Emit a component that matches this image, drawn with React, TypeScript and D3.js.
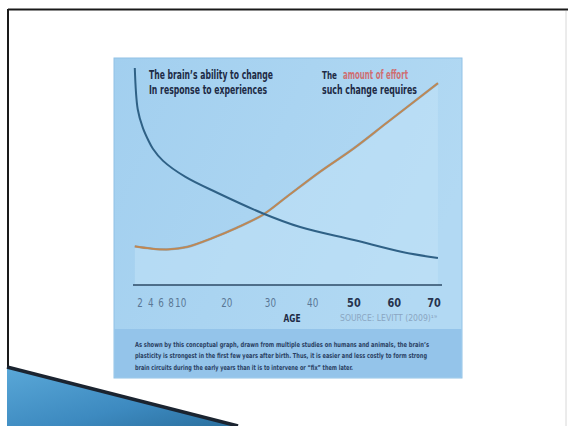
import React from "react";
import * as d3 from "d3";

// ---- data ----
const tickAges = [2, 4, 6, 8, 10, 20, 30, 40, 50, 60, 70];
const boldTicks = [50, 60, 70];

const plasticityAges = [1.1, 1.6, 2.5, 3.5, 4.4, 6.4, 11, 18, 28, 37, 50, 62, 71];
const plasticityValues = [100, 81, 72.5, 66.8, 62.8, 57.2, 49.8, 42.4, 33.2, 26.7, 20.7, 15.2, 12.4];

const effortAges = [1.1, 4, 7.5, 11.3, 16.9, 22.2, 28.2, 33.8, 41.7, 50, 58.1, 71];
const effortValues = [17.8, 16.8, 16.4, 17.5, 21.7, 26.3, 32.3, 40.6, 52.1, 63, 74.7, 93];

const titleLeft = ["The brain\u2019s ability to change", "In response to experiences"];
const titleRightA = "The";
const titleRightB = "amount of effort";
const titleRight2 = "such change requires";
const axisTitle = "AGE";
const sourceText = "SOURCE: LEVITT (2009)\u00B9\u2079";
const captionLines = [
  "As shown by this conceptual graph, drawn from multiple studies on humans and animals, the brain\u2019s",
  "plasticity is strongest in the first few years after birth. Thus, it is easier and less costly to form strong",
  "brain circuits during the early years than it is to intervene or \u201Cfix\u201D them later.",
];

const W = 568;
const H = 426;

export default function App() {
  const x = d3.scalePow().exponent(0.9).domain([0, 70]).range([127.5, 434]);
  const y = d3.scaleLinear().domain([0, 100]).range([285, 68]);

  const plast = plasticityAges.map((a, i) => [a, plasticityValues[i]] as [number, number]);
  const effort = effortAges.map((a, i) => [a, effortValues[i]] as [number, number]);

  const line = d3
    .line<[number, number]>()
    .x((d) => x(d[0]))
    .y((d) => y(d[1]))
    .curve(d3.curveCatmullRom.alpha(0.5));
  const area = d3
    .area<[number, number]>()
    .x((d) => x(d[0]))
    .y0(y(0))
    .y1((d) => y(d[1]))
    .curve(d3.curveCatmullRom.alpha(0.5));

  const cond = "'Liberation Sans Narrow', 'DejaVu Sans Condensed', 'Arial Narrow', sans-serif";

  return (
    <svg
      width={W}
      height={H}
      viewBox={`0 0 ${W} ${H}`}
      style={{ position: "absolute", left: 0, top: 0, background: "#ffffff" }}
    >
      <defs>
        <linearGradient id="wedge" x1="0" y1="0" x2="1" y2="1">
          <stop offset="0%" stopColor="#5aa8d8" />
          <stop offset="60%" stopColor="#3d8ac0" />
          <stop offset="100%" stopColor="#2a6f9e" />
        </linearGradient>
        <linearGradient id="panelGrad" x1="0" y1="0" x2="1" y2="0.4">
          <stop offset="0%" stopColor="#a2cfef" />
          <stop offset="100%" stopColor="#b2d9f3" />
        </linearGradient>
      </defs>

      {/* slide frame */}
      <rect x={0} y={0} width={W} height={H} fill="#ffffff" />
      <line x1={8} y1={9.5} x2={W} y2={9.5} stroke="#1a1a1a" strokeWidth={2} />
      <line x1={8} y1={9} x2={8} y2={H} stroke="#1a1a1a" strokeWidth={2} />
      <line x1={566} y1={11} x2={566} y2={H} stroke="#d8d8d8" strokeWidth={1} />

      {/* bottom-left decorative wedge */}
      <polygon points={`7,367 238,${H} 7,${H}`} fill="url(#wedge)" />
      <line x1={7} y1={367} x2={238} y2={H} stroke="#1b2430" strokeWidth={3.5} />

      {/* chart panel */}
      <rect x={114} y={58} width={348} height={320} fill="url(#panelGrad)" stroke="#92c2e6" strokeWidth={1} />
      <path d={area(effort) ?? ""} fill="#c4e3f7" opacity={0.5} />
      <rect x={114.5} y={329} width={347} height={48.5} fill="#94c4ea" />

      {/* baseline */}
      <line x1={133} y1={y(0)} x2={442} y2={y(0)} stroke="#2c4a66" strokeWidth={1.6} />

      {/* curves */}
      <path d={line(effort) ?? ""} fill="none" stroke="#6a5a4a" strokeWidth={2.4} opacity={0.45} />
      <path d={line(effort) ?? ""} fill="none" stroke="#c28750" strokeWidth={1.6} />
      <path d={line(plast) ?? ""} fill="none" stroke="#2f6186" strokeWidth={2} />

      {/* titles */}
      {titleLeft.map((t, i) => (
        <text
          key={t}
          x={149}
          y={79 + i * 14.5}
          fontFamily={cond}
          fontWeight="bold"
          fontSize={12}
          fill="#1d2a45"
          textLength={i === 0 ? 124 : 118}
          lengthAdjust="spacingAndGlyphs"
        >
          {t}
        </text>
      ))}
      <text
        x={322}
        y={79}
        fontFamily={cond}
        fontWeight="bold"
        fontSize={11}
        fill="#1d2a45"
        textLength={15}
        lengthAdjust="spacingAndGlyphs"
      >
        {titleRightA}
      </text>
      <text
        x={343}
        y={79}
        fontFamily={cond}
        fontWeight="bold"
        fontSize={12}
        fill="#cf6f72"
        textLength={65}
        lengthAdjust="spacingAndGlyphs"
      >
        {titleRightB}
      </text>
      <text
        x={322}
        y={93.5}
        fontFamily={cond}
        fontWeight="bold"
        fontSize={12}
        fill="#1d2a45"
        textLength={95}
        lengthAdjust="spacingAndGlyphs"
      >
        {titleRight2}
      </text>

      {/* tick labels */}
      {tickAges.map((a) => {
        const bold = boldTicks.includes(a);
        const len = String(a).length * (bold ? 6.8 : 5.6);
        return (
          <text
            key={a}
            x={x(a) - len / 2}
            y={307}
            fontFamily={cond}
            fontWeight={bold ? "bold" : "normal"}
            fontSize={13}
            fill={bold ? "#26334d" : "#5a7896"}
            textLength={len}
            lengthAdjust="spacingAndGlyphs"
          >
            {a}
          </text>
        );
      })}

      <text
        x={283.5}
        y={322}
        fontFamily={cond}
        fontWeight="bold"
        fontSize={10}
        fill="#1d2a45"
        textLength={17}
        lengthAdjust="spacingAndGlyphs"
      >
        {axisTitle}
      </text>
      <text
        x={340}
        y={321}
        fontFamily={cond}
        fontSize={8}
        fill="#8aa6c2"
        textLength={97}
        lengthAdjust="spacingAndGlyphs"
      >
        {sourceText}
      </text>

      {/* caption */}
      {captionLines.map((t, i) => (
        <text
          key={i}
          x={135}
          y={347 + i * 11.3}
          fontFamily={cond}
          fontWeight="bold"
          fontSize={7}
          fill="#2a3f63"
          textLength={i === 0 ? 294 : i === 1 ? 292 : 218}
          lengthAdjust="spacingAndGlyphs"
        >
          {t}
        </text>
      ))}
    </svg>
  );
}
